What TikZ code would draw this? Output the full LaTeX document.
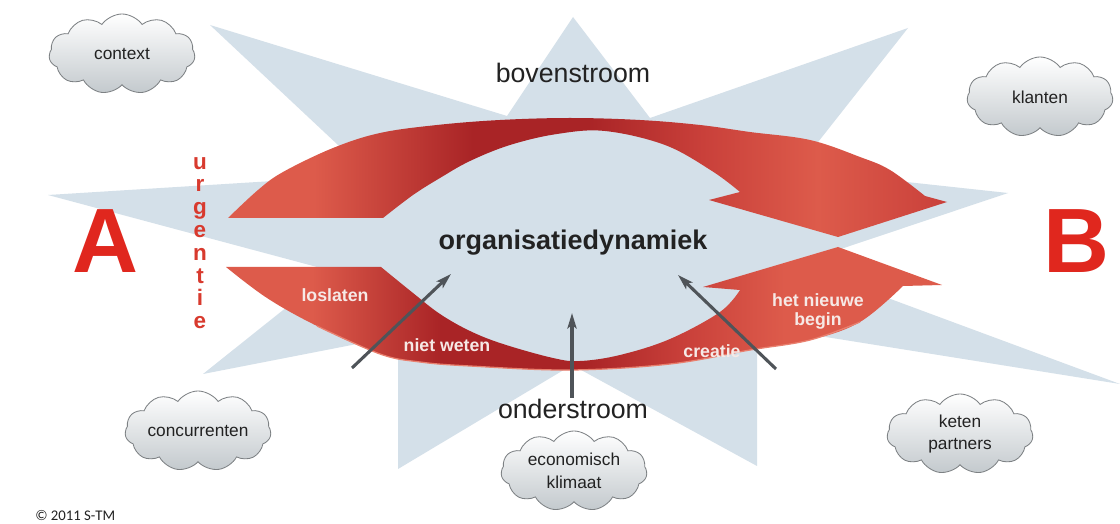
\documentclass[tikz,border=0pt]{standalone}
\usepackage{fontspec}
\setmainfont{Liberation Sans}
\newfontfamily\copyfont{Carlito}
\usetikzlibrary{shapes.symbols,arrows.meta}

\definecolor{starblue}{HTML}{D4E0E9}
\definecolor{letterred}{HTML}{E0271E}
\definecolor{urgred}{HTML}{D83A2E}
\definecolor{ribbonlight}{HTML}{DD5B4B}
\definecolor{ribbonmid}{HTML}{C9403A}
\definecolor{ribbondark}{HTML}{A92426}
\definecolor{ribbonedge}{HTML}{E9806F}
\definecolor{arrowgrey}{HTML}{4F5459}
\definecolor{textdark}{HTML}{222222}
\definecolor{cloudline}{HTML}{7D8184}
\definecolor{cloudshade}{HTML}{C3C9CD}
\definecolor{labelwhite}{HTML}{F6E9E6}

% colour runs along the two ribbons (path box = 25bp..75bp)
\pgfdeclarehorizontalshading{ribbontop}{100bp}{color(0bp)=(ribbonlight); color(31bp)=(ribbonlight); color(42bp)=(ribbondark); color(50bp)=(ribbondark); color(58bp)=(ribbonmid); color(66bp)=(ribbonlight); color(75bp)=(ribbonmid); color(100bp)=(ribbonmid)}
\pgfdeclarehorizontalshading{ribbonbot}{100bp}{color(0bp)=(ribbonlight); color(31bp)=(ribbonlight); color(40bp)=(ribbondark); color(50bp)=(ribbondark); color(57bp)=(ribbonmid); color(64bp)=(ribbonlight); color(100bp)=(ribbonlight)}

\tikzset{
  cloudbox/.style={cloud, cloud puffs=11, cloud puff arc=110, cloud ignores aspect,
    minimum width=3.65cm, minimum height=2cm, inner sep=0pt,
    draw=cloudline, line width=0.6pt, top color=white, bottom color=cloudshade,
    text=textdark, align=center, font=\fontsize{12.3}{16}\selectfont},
  bigletter/.style={text=letterred, inner sep=0pt, font=\fontsize{65}{65}\selectfont\bfseries},
  streamtext/.style={text=textdark, inner sep=0pt, font=\fontsize{19}{22}\selectfont},
  phaselabel/.style={text=labelwhite, inner sep=0pt, align=center, font=\fontsize{12.6}{13.5}\selectfont\bfseries},
  greyarrow/.style={draw=arrowgrey, line width=2.2pt, -{Stealth[length=11pt,width=6.5pt,inset=2.5pt]}}
}

\begin{document}
\begin{tikzpicture}[x=0.025cm, y=-0.025cm]
\useasboundingbox (0,0) rectangle (1120,524);
\fill[white] (0,0) rectangle (1120,524);

% the star behind everything
\fill[starblue] (573,17) -- (650,118) -- (908,28) -- (796,170) -- (1008,193) -- (796,264)
  -- (1120,384) -- (757,326) -- (757,466) -- (572,365) -- (398,469) -- (398,336)
  -- (203,374) -- (332,271) -- (48,195) -- (370,175) -- (210,25) -- (507,116) -- cycle;

% upper ribbon, pointing down to the right
\path[shading=ribbontop] (228,218) -- (383,218)
  -- plot[smooth, tension=0.6] coordinates {(383,218) (413,195) (440,178) (470,161) (510,145) (557,134) (605,131) (665,145) (712,171) (740,192)}
  -- (709,200) -- (838,237) -- (947,202) -- (925,196)
  -- plot[smooth, tension=0.6] coordinates {(925,196) (890,170) (860,157) (810,140) (750,132) (700,125) (640,120) (570,118) (500,120) (437,125) (380,133) (333,148) (283,172) (258,190) (228,218)}
  -- cycle;

% lower ribbon, pointing up to the right
\path[shading=ribbonbot] (226,267) -- (381,267)
  -- plot[smooth, tension=0.6] coordinates {(381,267) (413,293) (440,314) (470,331) (503,344) (553,358) (580,361) (620,355) (670,339) (720,312) (740,290)}
  -- (703,287) -- (838,247) -- (942,285) -- (903,286)
  -- plot[smooth, tension=0.6] coordinates {(903,286) (860,322) (810,340) (750,350) (670,364) (570,370) (470,366) (420,362) (380,354) (317,326) (267,298) (226,267)}
  -- cycle;
\draw[ribbonedge, line width=0.9pt] plot[smooth, tension=0.6] coordinates {(860,322) (810,340) (750,350) (670,364) (570,370) (470,366) (420,362) (380,354) (317,326)};

% start and end state
\node[bigletter] (A) at (106,241) {A};
\node[bigletter] (B) at (1076,241) {B};
\node[text=urgred, inner sep=0pt, align=center, font=\fontsize{16}{16.2}\selectfont\bfseries]
  (urgentie) at (200,243) {u\\r\\g\\e\\n\\t\\i\\e};

% main labels
\node[streamtext, anchor=base] (boven) at (573,83) {bovenstroom};
\node[streamtext, anchor=base] (onder) at (573,419) {onderstroom};
\node[text=textdark, inner sep=0pt, anchor=base, font=\fontsize{19.2}{22}\selectfont\bfseries]
  (dyn) at (573,250) {organisatiedynamiek};

% phases on the ribbons
\node[phaselabel, anchor=base] (los) at (335,302) {loslaten};
\node[phaselabel, anchor=base] (niet) at (447,352) {niet weten};
\node[phaselabel, anchor=base] (creatie) at (712,358) {creatie};
\node[phaselabel] (nieuw) at (818,311) {het nieuwe\\begin};

% forces from below
\coordinate (g1s) at (352,368); \coordinate (g1e) at (451,274);
\coordinate (g2s) at (572,398); \coordinate (g2e) at (572,313);
\coordinate (g3s) at (776,369); \coordinate (g3e) at (678,275);
\draw[greyarrow] (g1s) -- (g1e);
\draw[greyarrow] (g2s) -- (g2e);
\draw[greyarrow] (g3s) -- (g3e);

% surroundings
\node[cloudbox] (context) at (122,54) {context};
\node[cloudbox] (klanten) at (1040,97) {klanten};
\node[cloudbox] (concurrenten) at (198,431) {concurrenten};
\node[cloudbox] (klimaat) at (574,471) {economisch\\klimaat};
\node[cloudbox] (keten) at (960,434) {keten\\partners};

\node[anchor=base west, inner sep=0pt, text=textdark, font=\copyfont\fontsize{10.5}{12}\selectfont]
  (copy) at (35,521) {© 2011 S-TM};
\end{tikzpicture}
\end{document}
